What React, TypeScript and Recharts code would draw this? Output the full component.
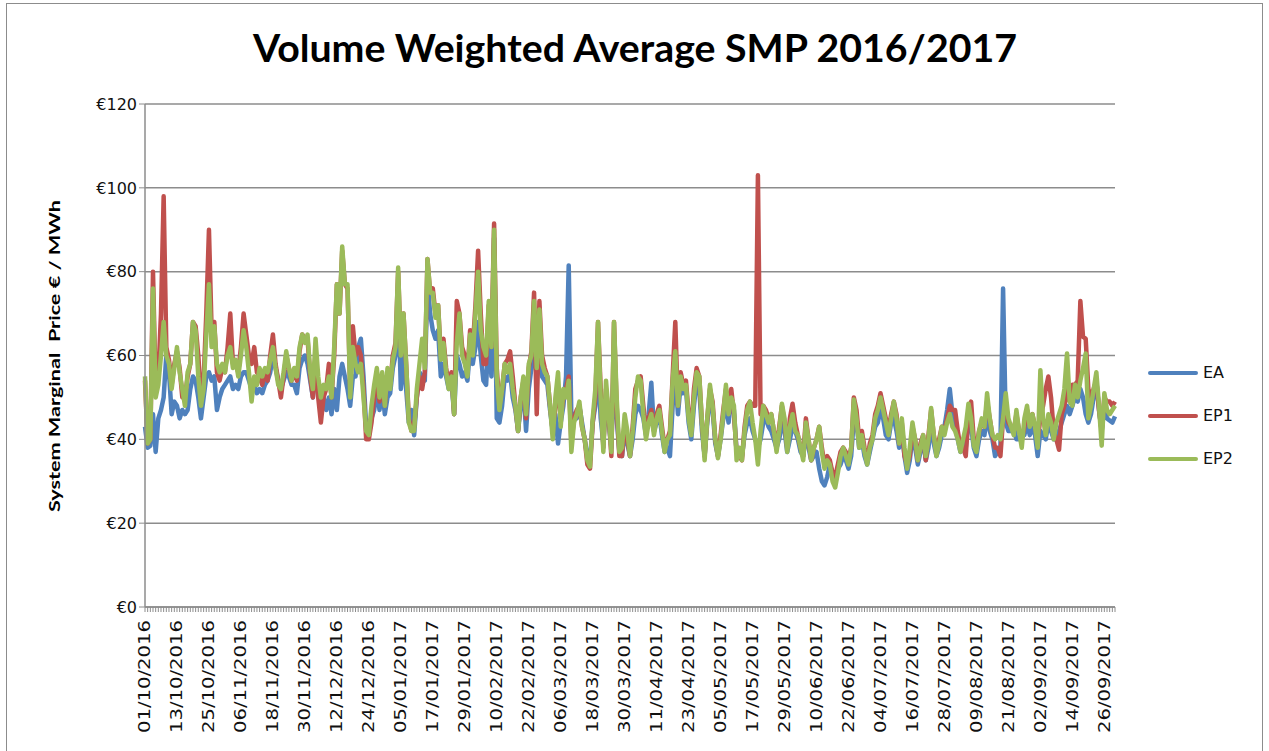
import React from 'react';
import { LineChart, Line, XAxis, YAxis, CartesianGrid, Legend } from 'recharts';

// one value per day, 01/10/2016 .. 30/09/2017
const DAYS: string[] = [];
for (let i = 0; i < 365; i++) {
    const d = new Date(2016, 9, 1 + i);
    const dd = String(d.getDate()).padStart(2, '0');
    const mm = String(d.getMonth() + 1).padStart(2, '0');
    DAYS.push(`${dd}/${mm}/${d.getFullYear()}`);
}

// labelled every 12th day
const TICK_LABELS = DAYS.filter((_, i) => i % 12 === 0);

const Y_TICKS = [0, 20, 40, 60, 80, 100, 120];

const EA = [
    43, 38, 38.5, 46, 37, 45, 47, 50, 60, 56,
    46, 49, 48, 45, 47, 46, 47, 52, 55, 54,
    50, 45, 50, 55, 56, 54, 55, 47, 50, 52,
    53, 54, 55, 52, 53, 52, 55, 56, 56, 54,
    52, 53, 51, 52, 51, 53, 54, 56, 60, 57,
    54, 52, 54, 56, 55, 53, 53, 51, 57, 59,
    60, 58, 54, 50, 57, 52, 48, 50, 47, 50,
    46, 52, 47, 55, 58, 55, 52, 48, 55, 55,
    62, 64, 55, 43, 41, 45, 47, 52, 47, 52,
    46, 50, 51, 57, 60, 75, 52, 60, 52, 44,
    47, 41, 50, 56, 55, 54, 78, 70, 66, 64,
    66, 55, 58, 55, 52, 54, 46, 60, 58, 55,
    56, 54, 62, 58, 62, 68, 60, 54, 53, 65,
    55, 88, 45, 44, 48, 55, 54, 56, 50, 47,
    42, 48, 52, 42, 52, 57, 62, 55, 60, 55,
    54, 53, 47, 42, 46, 39, 44, 48, 55, 81.5,
    45, 46, 45, 48, 44, 40, 36, 35, 44, 48,
    58, 45, 39, 50, 44, 38, 60, 45, 37, 36,
    42, 39, 36, 40, 46, 48, 47, 45, 41, 46,
    53.5, 42, 44, 46, 41, 37, 38, 36, 48, 55,
    46, 53, 51, 52, 44, 40, 48, 54, 52, 42,
    36, 44, 50, 47, 39, 36, 40, 45, 48, 44,
    50, 47, 37, 37, 36, 41, 44, 45, 42, 40,
    38, 40, 44, 45, 43, 42, 40, 38, 40, 44,
    42, 37, 40, 43, 42, 40, 37, 36, 42, 38,
    35, 36, 37, 33, 30, 29, 31, 34, 32, 31,
    33, 34, 36, 35, 33, 36, 45, 44, 38, 40,
    36, 34, 37, 40, 43, 44, 47, 45, 41, 40,
    44, 45, 42, 38, 42, 36, 32, 35, 41, 38,
    34, 37, 40, 35, 38, 44, 39, 36, 38, 41,
    43, 47, 52, 46, 43, 40, 37, 40, 38, 44,
    43, 38, 36, 40, 42, 41, 46, 42, 40, 36,
    37, 38, 76, 44, 42, 42, 43, 40, 40, 41,
    41, 44, 41, 43, 41, 36, 42, 41, 40, 44,
    42, 40, 40, 42, 44, 46, 48, 46, 48, 50,
    49, 52, 50, 46, 44, 46, 50, 54, 47, 42,
    48, 45, 44.5, 44, 45.5,
];

const EP1 = [
    54, 39, 40, 80, 52, 55, 70, 98, 62, 59,
    53, 58, 61, 57, 50, 50, 55, 58, 68, 67,
    60, 50, 54, 70, 90, 66, 68, 56, 54, 57,
    56, 62, 70, 58, 58, 56, 62, 70, 65, 60,
    58, 62, 56, 55, 53, 56, 54, 60, 65, 58,
    54, 50, 55, 60, 57, 54, 56, 54, 61, 65,
    64, 64, 55, 50, 60, 50, 44, 50, 52, 58,
    50, 60, 77, 70, 85, 77, 76, 52, 67, 60,
    62, 60, 52, 40, 40, 44, 50, 55, 49, 55,
    48, 56, 53, 60, 63, 80, 62, 70, 58, 45,
    42, 43, 50, 55, 52, 56, 83, 75, 76, 70,
    72, 60, 64, 57, 53, 56, 46, 73, 70, 62,
    60, 56, 66, 62, 72, 85, 70, 58, 58, 72,
    62, 91.5, 57, 48, 52, 58, 59, 61, 55, 48,
    42, 50, 54, 45, 57, 61, 75, 46, 73, 60,
    57, 55, 48, 42, 48, 52, 45, 50, 52, 55,
    39, 45, 47, 48, 43, 40, 34, 33, 44, 50,
    68, 52, 38, 52, 46, 36, 68, 48, 36, 36,
    44, 40, 36, 43, 52, 54, 55, 48, 42, 45,
    47, 42, 46, 48, 43, 38, 40, 42, 55, 68,
    48, 56, 53, 54, 46, 42, 52, 57, 55, 44,
    36, 45, 52, 49, 40, 36, 41, 47, 52, 47,
    52, 46, 37, 36, 35, 43, 48, 49, 48, 48,
    103, 46, 48, 47, 45, 46, 42, 38, 43, 48,
    44, 38, 45, 48.5, 44, 41, 38, 36, 45, 40,
    35, 38, 40, 43, 38, 34, 36, 35, 32, 31,
    34, 37, 38, 37, 35, 38, 50, 47, 40, 42,
    38, 35, 39, 41, 46, 48, 51, 48, 45, 42,
    46, 49, 46, 39, 44, 36, 34, 36, 43, 40,
    35, 39, 41, 35, 41, 47, 41, 37, 40, 43,
    42, 45, 48, 47, 47, 42, 38, 38, 36, 46,
    49, 40, 38, 42, 44, 43, 49, 45, 41, 38,
    38, 36, 45, 48, 44, 43, 42, 46, 42, 40,
    43, 47, 44, 46, 43, 40, 45, 48, 52, 55,
    50, 42, 40, 37.5, 46, 48, 52, 49, 53, 53,
    54, 73, 64.5, 64, 52, 50, 52, 54, 47, 42,
    50, 49, 49, 48, 49,
];

const EP2 = [
    55, 39, 40, 76, 50, 53, 60, 68, 60, 58,
    52, 57, 62, 56, 52, 48, 56, 58, 68, 66,
    55, 48, 52, 65, 77, 62, 67, 58, 56, 58,
    56, 60, 62, 57, 59, 55, 60, 66, 62, 56,
    49, 55, 53, 57, 55, 57, 56, 59, 62, 57,
    53, 52, 56, 61, 57, 54, 57, 55, 62, 65,
    63, 65, 56, 52, 64, 55, 50, 53, 52, 55,
    50, 62, 77, 70, 86, 77, 77, 50, 62, 58,
    56, 58, 50, 42, 41, 48, 53, 57, 50, 56,
    48, 57, 52, 59, 62, 81, 60, 70, 58, 44,
    42, 42, 52, 58, 64, 57, 83, 75, 75, 69,
    72, 59, 63, 56, 52, 55, 46, 63, 70, 60,
    58, 55, 65, 60, 70, 80, 66, 62, 60, 73,
    62, 90, 55, 47, 52, 58, 56, 58, 52, 48,
    42, 50, 55, 46, 58, 60, 73, 57, 71, 58,
    56, 55, 48, 40, 50, 56, 43, 52, 50, 54,
    37, 44, 46, 49, 43, 40, 35, 33.5, 45, 52,
    68, 50, 37, 54, 46, 37, 68, 50, 37, 38,
    46, 42, 36, 42, 50, 55, 54, 46, 40, 44,
    46, 41, 45, 47, 42, 37, 40, 41, 54, 61,
    48, 55, 52, 53, 45, 41, 50, 56, 55, 44,
    35, 45, 53, 48, 40, 35.5, 40, 46, 53, 46,
    50, 48, 35, 38, 35, 42, 47, 49, 44, 40,
    34, 42, 48, 46, 44, 46, 42, 37, 42, 48.5,
    45, 37, 43, 46, 42, 41, 38, 35, 44, 40,
    35, 38, 40, 43, 37, 33, 35, 34, 30, 28.5,
    32, 36, 38, 36, 34, 38, 49.5, 45, 38, 41,
    37, 34, 38, 40, 45, 47, 50, 47, 44, 41,
    45, 49, 45, 39, 45, 38, 33, 38, 44, 40,
    35, 38, 41, 36, 40, 47.5, 41, 36, 39, 43,
    41, 44, 46, 43, 42, 40, 37, 40, 43, 48.5,
    45, 38.5, 37, 42, 45, 43, 51, 45, 41, 40,
    41, 40, 45, 51, 45, 43, 41, 47, 42, 38,
    45, 48, 43, 46, 43, 38, 56.5, 45, 41, 46,
    44, 40, 44, 46, 48, 52, 60.5, 49, 48, 53,
    50, 54, 57, 60.5, 45, 48, 52, 56, 48, 38.5,
    51, 47, 46, 47, 48,
];

const SERIES = [
    { key: 'EA', color: '#4f81bd' },
    { key: 'EP1', color: '#c0504d' },
    { key: 'EP2', color: '#9bbb59' },
];

const data = DAYS.map((day, i) => ({ day, EA: EA[i], EP1: EP1[i], EP2: EP2[i] }));

const AXIS_GREY = '#8c8c8c';

// rotated date label, only on every 12th day
const DayTick = (props: any) => {
    const { x, y, payload } = props;
    if (!TICK_LABELS.includes(payload.value)) return <g />;
    const ty = y + 6;
    return (
        <text
            x={x}
            y={ty}
            dy="0.36em"
            transform={`rotate(-90 ${x} ${ty})`}
            textAnchor="end"
            fontFamily="DejaVu Sans"
            fontSize={15}
            fill="#111"
            textLength={113}
            lengthAdjust="spacingAndGlyphs"
        >
            {payload.value}
        </text>
    );
};

const renderLegend = () => (
    <div style={{ fontFamily: 'DejaVu Sans', fontSize: 16, color: '#111' }}>
        {SERIES.map((s) => (
            <div key={s.key} style={{ display: 'flex', alignItems: 'center', height: 43 }}>
                <div style={{ width: 50, height: 4, borderRadius: 2, background: s.color, marginRight: 5 }} />
                <span>{s.key}</span>
            </div>
        ))}
    </div>
);

export default function App() {
    return (
        <div
            style={{
                position: 'fixed',
                left: 0,
                top: 0,
                width: 1269,
                height: 751,
                overflow: 'hidden',
                background: '#fff',
            }}
        >
            <div
                style={{
                    position: 'absolute',
                    left: 6,
                    top: 3,
                    width: 1257,
                    height: 800,
                    border: `1px solid ${AXIS_GREY}`,
                    boxSizing: 'border-box',
                }}
            />
            <LineChart
                width={1269}
                height={751}
                data={data}
                margin={{ top: 104, right: 154, bottom: 0, left: 0 }}
            >
                <CartesianGrid vertical={false} stroke={AXIS_GREY} strokeWidth={1.5} />
                <XAxis
                    dataKey="day"
                    interval={0}
                    height={144}
                    tick={<DayTick />}
                    tickSize={5}
                    tickLine={{ stroke: AXIS_GREY }}
                    axisLine={{ stroke: AXIS_GREY, strokeWidth: 1.5 }}
                />
                <YAxis
                    domain={[0, 120]}
                    ticks={Y_TICKS}
                    width={145}
                    tickSize={6}
                    tickFormatter={(v: number) => `€${v}`}
                    tick={{ fontFamily: 'DejaVu Sans', fontSize: 16, fill: '#111' }}
                    tickLine={{ stroke: AXIS_GREY }}
                    axisLine={{ stroke: AXIS_GREY, strokeWidth: 1.5 }}
                />
                {SERIES.map((s) => (
                    <Line
                        key={s.key}
                        type="linear"
                        dataKey={s.key}
                        stroke={s.color}
                        strokeWidth={4.5}
                        strokeLinejoin="round"
                        dot={false}
                        isAnimationActive={false}
                    />
                ))}
                <Legend
                    layout="vertical"
                    align="center"
                    verticalAlign="middle"
                    content={renderLegend}
                    wrapperStyle={{ left: 1148, top: 351, width: 110 }}
                />
            </LineChart>
            <svg
                width={1269}
                height={751}
                style={{ position: 'absolute', left: 0, top: 0, pointerEvents: 'none' }}
            >
                <text
                    x={635}
                    y={62}
                    textAnchor="middle"
                    fontFamily="Lato"
                    fontWeight={700}
                    fontSize={38}
                    fill="#000"
                    textLength={764}
                    lengthAdjust="spacingAndGlyphs"
                >
                    Volume Weighted Average SMP 2016/2017
                </text>
                <text
                    x={55}
                    y={356}
                    dy="0.35em"
                    transform="rotate(-90 55 356)"
                    textAnchor="middle"
                    fontFamily="Lato"
                    fontWeight={700}
                    fontSize={15}
                    fill="#000"
                    textLength={312}
                    lengthAdjust="spacingAndGlyphs"
                    style={{ whiteSpace: 'pre' }}
                >
                    System Marginal  Price € / MWh
                </text>
            </svg>
        </div>
    );
}
